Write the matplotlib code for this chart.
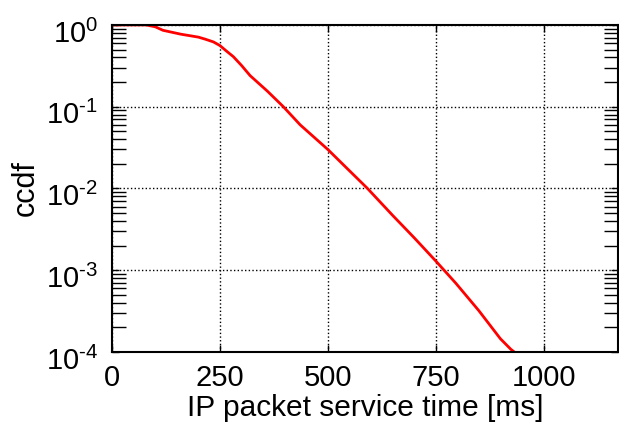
import matplotlib
matplotlib.use("Agg")
import matplotlib.pyplot as plt
import matplotlib.transforms as mtransforms
from matplotlib.ticker import LogLocator, NullFormatter, FuncFormatter
import numpy as np

plt.rcParams['font.family'] = ['Liberation Sans', 'DejaVu Sans']
plt.rcParams['mathtext.fontset'] = 'custom'
plt.rcParams['mathtext.rm'] = 'Liberation Sans'
plt.rcParams['mathtext.it'] = 'Liberation Sans'

# ccdf of IP packet service time
service_time = [0, 79, 100, 118, 160, 200, 216, 235, 250, 265, 281, 300, 320, 360, 397, 436, 500, 550, 592, 650, 700, 750, 797, 850, 900, 924, 932]
ccdf = [1.0, 1.0, 0.95, 0.86, 0.77, 0.71, 0.67, 0.62, 0.56, 0.48, 0.41, 0.32, 0.24, 0.155, 0.1, 0.06, 0.03, 0.0165, 0.01, 0.0047, 0.0025, 0.0013, 0.00069, 0.00032, 0.000145, 0.000108, 0.0001]
xticks = [0, 250, 500, 750, 1000]


def log_label(v, pos):
    e = int(round(np.log10(v)))
    if e < 0:
        return r'$\mathregular{10^{\text{-}%d}}$' % (-e)
    return r'$\mathregular{10^{%d}}$' % e


fig = plt.figure(figsize=(6.19, 4.23), dpi=100)
ax = fig.add_axes([0.181, 0.168, 0.817, 0.773])
ax.semilogy(service_time, ccdf, color='red', linewidth=2.0)

ax.set_xlim(0, 1172)
ax.set_ylim(1e-4, 1)
ax.set_xticks(xticks)
ax.yaxis.set_major_locator(LogLocator(base=10, numticks=10))
ax.yaxis.set_minor_locator(LogLocator(base=10, subs=range(2, 10), numticks=10))
ax.yaxis.set_major_formatter(FuncFormatter(log_label))
ax.yaxis.set_minor_formatter(NullFormatter())
ax.grid(True, which='major', linestyle=':', color='black', linewidth=1.0)
ax.tick_params(which='both', direction='in', right=True, top=True, labelsize=21)
ax.tick_params(which='major', length=5, width=1)
ax.tick_params(which='minor', length=10, width=1)
ax.tick_params(axis='x', pad=9)
ax.tick_params(axis='y', pad=10)
for s in ax.spines.values():
    s.set_linewidth(1.5)

# shift y tick labels down a bit, like the original
shift = mtransforms.ScaledTranslation(0, -6 / 100, fig.dpi_scale_trans)
for lbl in ax.get_yticklabels():
    lbl.set_transform(lbl.get_transform() + shift)

ax.set_xlabel('IP packet service time [ms]', fontsize=21.5, labelpad=1)
ax.set_ylabel('ccdf', fontsize=22)
ax.yaxis.set_label_coords(-0.14, 0.5)

fig.savefig('out.png', dpi=100)
